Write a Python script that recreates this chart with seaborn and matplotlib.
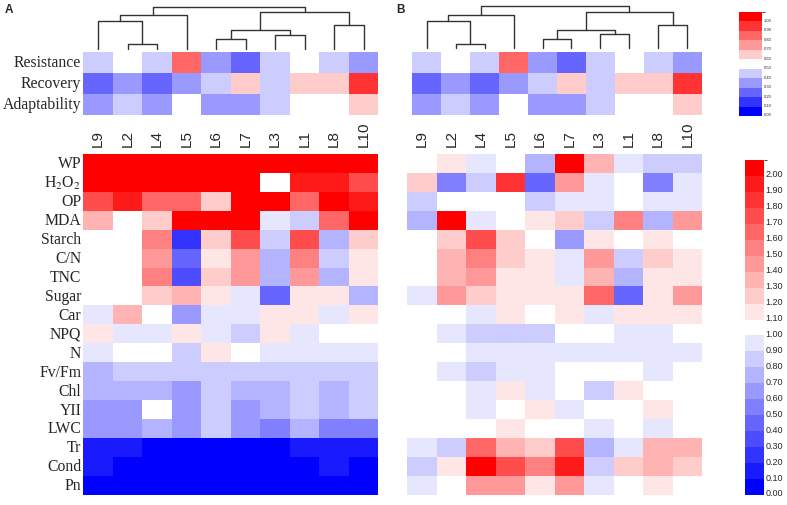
import matplotlib
matplotlib.use("Agg")
import matplotlib.pyplot as plt
from matplotlib.colors import ListedColormap, BoundaryNorm
from matplotlib.transforms import ScaledTranslation
import seaborn as sns
import numpy as np
import pandas as pd

sns.set_style("white")
plt.rcParams["font.family"] = ["Liberation Serif", "DejaVu Serif"]
plt.rcParams["mathtext.fontset"] = "stix"

# ------------------------------------------------------------
# Data
# ------------------------------------------------------------
lines = ["L9", "L2", "L4", "L5", "L6", "L7", "L3", "L1", "L8", "L10"]
top_traits = ["Resistance", "Recovery", "Adaptability"]
traits = ["WP", "H$_2$O$_2$", "OP", "MDA", "Starch", "C/N", "TNC", "Sugar", "Car",
          "NPQ", "N", "Fv/Fm", "Chl", "YII", "LWC", "Tr", "Cond", "Pn"]

# drought tolerance indices (0-1 scale)
resistance = [0.45, 0.55, 0.45, 0.85, 0.35, 0.25, 0.45, 0.55, 0.45, 0.35]
recovery = [0.25, 0.35, 0.25, 0.35, 0.45, 0.65, 0.45, 0.65, 0.65, 0.95]
adaptability = [0.35, 0.45, 0.35, 0.55, 0.35, 0.35, 0.45, 0.55, 0.55, 0.65]

# relative values (treatment / control), panel A
ratios_a = [
    [2.05, 2.05, 2.05, 2.05, 2.05, 2.05, 2.05, 2.05, 2.05, 2.05],  # WP
    [2.05, 2.05, 2.05, 2.05, 2.05, 2.05, 1.05, 1.95, 1.95, 1.75],  # H2O2
    [1.75, 1.95, 1.65, 1.65, 1.25, 2.05, 2.05, 1.65, 2.05, 1.95],  # OP
    [1.35, 1.05, 1.25, 2.05, 2.05, 2.05, 0.95, 0.85, 1.65, 2.05],  # MDA
    [1.05, 1.05, 1.55, 0.25, 1.25, 1.75, 0.85, 1.75, 0.75, 1.25],  # Starch
    [1.05, 1.05, 1.45, 0.45, 1.15, 1.45, 0.75, 1.55, 0.85, 1.15],  # C/N
    [1.05, 1.05, 1.55, 0.35, 1.25, 1.45, 0.75, 1.45, 0.75, 1.15],  # TNC
    [1.05, 1.05, 1.25, 1.35, 1.15, 0.95, 0.45, 1.15, 1.15, 0.75],  # Sugar
    [0.95, 1.35, 1.05, 0.65, 0.95, 0.95, 1.15, 1.15, 0.95, 1.15],  # Car
    [1.15, 0.95, 0.95, 1.15, 0.95, 0.85, 1.15, 0.95, 1.05, 1.05],  # NPQ
    [0.95, 1.05, 1.05, 0.85, 1.15, 1.05, 0.95, 0.95, 0.95, 0.95],  # N
    [0.75, 0.85, 0.85, 0.85, 0.85, 0.85, 0.85, 0.85, 0.85, 0.85],  # Fv/Fm
    [0.75, 0.75, 0.75, 0.65, 0.85, 0.75, 0.75, 0.85, 0.75, 0.85],  # Chl
    [0.65, 0.65, 1.05, 0.65, 0.85, 0.65, 0.75, 0.85, 0.75, 0.85],  # YII
    [0.65, 0.65, 0.75, 0.65, 0.85, 0.65, 0.55, 0.75, 0.55, 0.55],  # LWC
    [0.15, 0.15, 0.05, 0.05, 0.05, 0.05, 0.05, 0.15, 0.15, 0.15],  # Tr
    [0.15, 0.05, 0.05, 0.05, 0.05, 0.05, 0.05, 0.05, 0.15, 0.05],  # Cond
    [0.05, 0.05, 0.05, 0.05, 0.05, 0.05, 0.05, 0.05, 0.05, 0.05],  # Pn
]

# relative values, panel B
ratios_b = [
    [1.05, 1.15, 0.95, 1.05, 0.75, 2.05, 1.35, 0.95, 0.85, 0.85],  # WP
    [1.25, 0.55, 0.85, 1.85, 0.45, 1.45, 0.95, 1.05, 0.55, 0.95],  # H2O2
    [0.85, 1.05, 1.05, 1.05, 0.85, 0.95, 0.95, 1.05, 0.95, 0.95],  # OP
    [0.75, 2.05, 0.95, 1.05, 1.15, 1.25, 0.85, 1.55, 0.75, 1.45],  # MDA
    [1.05, 1.25, 1.75, 1.25, 1.05, 0.65, 1.15, 1.05, 1.15, 1.05],  # Starch
    [1.05, 1.35, 1.55, 1.25, 1.15, 0.95, 1.45, 0.85, 1.25, 1.15],  # C/N
    [1.05, 1.35, 1.45, 1.15, 1.15, 0.95, 1.35, 0.75, 1.15, 1.15],  # TNC
    [0.95, 1.45, 1.25, 1.15, 1.15, 1.15, 1.65, 0.45, 1.15, 1.45],  # Sugar
    [1.05, 1.05, 0.95, 1.15, 1.05, 1.15, 0.95, 1.15, 1.15, 1.15],  # Car
    [1.05, 0.95, 0.85, 0.85, 0.85, 1.05, 1.05, 0.95, 0.95, 1.05],  # NPQ
    [1.05, 1.05, 0.95, 0.95, 0.95, 0.95, 0.95, 0.95, 0.95, 0.95],  # N
    [1.05, 0.95, 0.85, 0.95, 0.95, 1.05, 1.05, 1.05, 0.95, 1.05],  # Fv/Fm
    [1.05, 1.05, 0.95, 1.15, 0.95, 1.05, 0.85, 1.15, 1.05, 1.05],  # Chl
    [1.05, 1.05, 0.95, 1.05, 1.15, 0.95, 1.05, 1.05, 1.15, 1.05],  # YII
    [1.05, 1.05, 1.05, 1.15, 1.05, 1.05, 0.95, 1.05, 0.95, 1.05],  # LWC
    [0.95, 0.85, 1.65, 1.35, 1.25, 1.75, 0.75, 0.95, 1.35, 1.35],  # Tr
    [0.85, 1.15, 2.05, 1.75, 1.55, 1.95, 0.85, 1.25, 1.35, 1.25],  # Cond
    [0.95, 1.05, 1.45, 1.45, 1.15, 1.45, 0.95, 1.05, 1.15, 1.05],  # Pn
]

# hierarchical clustering of the lines: (left, right, height)
# leaves 0..9 follow `lines`; merge k creates cluster 10 + k
linkage = [(1, 2, 0.10), (4, 5, 0.22), (6, 7, 0.33), (11, 12, 0.43), (8, 9, 0.55),
           (0, 10, 0.65), (15, 3, 0.79), (13, 14, 0.87), (16, 17, 1.00)]

top_ticks = [0.0, 0.1, 0.2, 0.3, 0.4, 0.5, 0.6, 0.7, 0.8, 0.9, 1.0]
main_ticks = [0.0, 0.1, 0.2, 0.3, 0.4, 0.5, 0.6, 0.7, 0.8, 0.9, 1.0,
              1.1, 1.2, 1.3, 1.4, 1.5, 1.6, 1.7, 1.8, 1.9, 2.0]

# ------------------------------------------------------------
# Stepped blue-white-red colour scales
# ------------------------------------------------------------
top_colors = ([(c, c, 1.0) for c in (0.0, 0.2, 0.4, 0.6, 0.8)] + [(1.0, 1.0, 1.0)]
              + [(1.0, g, g) for g in (0.8, 0.6, 0.4, 0.2, 0.0)])
top_cmap = ListedColormap(top_colors)
top_norm = BoundaryNorm(np.round(np.arange(0, 1.11, 0.1), 2), top_cmap.N)

main_colors = ([(c, c, 1.0) for c in np.round(np.arange(0, 1.0, 0.1), 1)] + [(1.0, 1.0, 1.0)]
               + [(1.0, g, g) for g in np.round(np.arange(0.9, -0.01, -0.1), 1)])
main_cmap = ListedColormap(main_colors)
main_norm = BoundaryNorm(np.round(np.arange(0, 2.11, 0.1), 2), main_cmap.N)

# ------------------------------------------------------------
# Figure layout (pixel boxes)
# ------------------------------------------------------------
W, H = 787, 506
fig = plt.figure(figsize=(W / 100, H / 100), dpi=100)


def add_ax(x0, y0, x1, y1):
    return fig.add_axes([x0 / W, 1 - y1 / H, (x1 - x0) / W, (y1 - y0) / H])


def draw_dendrogram(ax):
    n = len(lines)
    xs = {i: i + 0.5 for i in range(n)}
    hs = {i: 0.0 for i in range(n)}
    for k, (a, b, h) in enumerate(linkage):
        ax.plot([xs[a], xs[a], xs[b], xs[b]], [hs[a], h, h, hs[b]],
                color="#333333", lw=1.0, clip_on=False)
        xs[n + k] = (xs[a] + xs[b]) / 2
        hs[n + k] = h
    ax.set_xlim(0, n)
    ax.set_ylim(0, 1)
    ax.axis("off")


def style_cbar(ax, size, pad, lift):
    cb = ax.collections[0].colorbar
    cb.ax.tick_params(length=0, labelsize=size, pad=pad)
    shift = ScaledTranslation(0, lift / 100, fig.dpi_scale_trans)
    for t in cb.ax.get_yticklabels():
        t.set_fontfamily("Liberation Sans")
        t.set_transform(t.get_transform() + shift)


top_df = pd.DataFrame([resistance, recovery, adaptability], index=top_traits, columns=lines)
main_a = pd.DataFrame(ratios_a, index=traits, columns=lines)
main_b = pd.DataFrame(ratios_b, index=traits, columns=lines)

cax_top = add_ax(739, 13, 762, 117)
cax_main = add_ax(745, 161, 764, 496)

panels = [
    # dendro box, top heatmap box, main heatmap box, main data, show row labels
    ((83.3, 7.5, 378.3, 49.5), (83.3, 52.7, 378.3, 116), (83.3, 155, 378.3, 495.7), main_a, True),
    ((412.3, 7.3, 701.7, 49.3), (412.3, 52.7, 701.7, 116), (407.3, 155, 702.3, 495.7), main_b, False),
]

for i, (dbox, tbox, mbox, mdata, show_rows) in enumerate(panels):
    ax_d = add_ax(*dbox)
    draw_dendrogram(ax_d)

    ax_t = add_ax(*tbox)
    sns.heatmap(top_df, ax=ax_t, cmap=top_cmap, norm=top_norm,
                cbar=(i == 0), cbar_ax=cax_top if i == 0 else None,
                cbar_kws={"ticks": top_ticks, "format": "%.2f"},
                xticklabels=False, yticklabels=show_rows)
    ax_t.tick_params(length=0, pad=1.5)
    if show_rows:
        ax_t.set_yticklabels(top_traits, rotation=0, fontsize=11.3, family="Liberation Serif")
    ax_t.set_xlabel("")
    ax_t.set_ylabel("")

    ax_m = add_ax(*mbox)
    sns.heatmap(mdata, ax=ax_m, cmap=main_cmap, norm=main_norm,
                cbar=(i == 0), cbar_ax=cax_main if i == 0 else None,
                cbar_kws={"ticks": main_ticks, "format": "%.2f"},
                xticklabels=True, yticklabels=show_rows)
    ax_m.xaxis.tick_top()
    ax_m.tick_params(axis="x", top=True, bottom=False, labeltop=True, labelbottom=False,
                     length=0, pad=5.8)
    ax_m.tick_params(axis="y", length=0, pad=1.5)
    ax_m.set_xticklabels(lines, rotation=90, fontsize=11, family="Liberation Sans")
    if show_rows:
        ax_m.set_yticklabels(traits, rotation=0, fontsize=11.3, family="Liberation Serif")
    ax_m.set_xlabel("")
    ax_m.set_ylabel("")

    if i == 0:
        style_cbar(ax_t, 3, 1, 2)
        style_cbar(ax_m, 6.5, 1, 3)

fig.text(5 / W, 1 - 13 / H, "A", fontsize=8.5, fontweight="bold", family="Liberation Sans")
fig.text(396 / W, 1 - 13 / H, "B", fontsize=8.5, fontweight="bold", family="Liberation Sans")

fig.savefig("out.png", dpi=100)
